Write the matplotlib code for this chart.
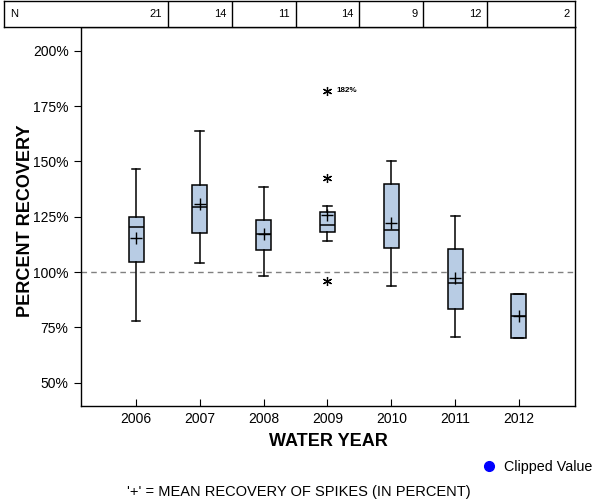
import matplotlib
matplotlib.use("Agg")
import matplotlib.pyplot as plt
from matplotlib.ticker import FuncFormatter
from matplotlib.lines import Line2D

plt.rcParams['font.family'] = ['Liberation Sans', 'DejaVu Sans']

years = ['2006', '2007', '2008', '2009', '2010', '2011', '2012']
n_counts = [21, 14, 11, 14, 9, 12, 2]
whisker_low = [77.7, 103.9, 98.0, 113.9, 93.5, 70.5, 70.0]
q1 = [104.4, 117.5, 109.9, 117.9, 110.7, 83.1, 70.0]
medians = [120.2, 129.2, 117.0, 121.1, 118.8, 94.9, 80.1]
q3 = [124.7, 139.2, 123.5, 127.0, 139.6, 110.2, 89.9]
whisker_high = [146.4, 163.6, 138.5, 129.7, 150.0, 125.4, 89.9]
means = [115.2, 130.6, 117.0, 125.8, 122.0, 97.1, 80.1]
outliers = [[], [], [], [181.9, 142.6, 95.8], [], [], []]
clipped_label = '182%'
yticks = [50, 75, 100, 125, 150, 175, 200]

fig = plt.figure(figsize=(6, 5), dpi=100)
W, H = 600, 500
L, R, T, B = 81, 575, 27, 406
ax = fig.add_axes([L / W, 1 - B / H, (R - L) / W, (B - T) / H])

xlo, xhi = -0.862, 6.878
positions = list(range(len(years)))
stats = []
for i in positions:
    stats.append(dict(whislo=whisker_low[i], q1=q1[i], med=medians[i], q3=q3[i],
                      whishi=whisker_high[i], mean=means[i], fliers=outliers[i]))

ax.bxp(stats, positions=positions, widths=0.235, capwidths=0.14, patch_artist=True,
       showmeans=True, showfliers=True,
       boxprops=dict(facecolor='#B8CCE4', edgecolor='black', linewidth=1.1),
       medianprops=dict(color='black', linewidth=1.1),
       whiskerprops=dict(color='black', linewidth=1.1),
       capprops=dict(color='black', linewidth=1.1),
       meanprops=dict(marker='+', markeredgecolor='black', markersize=8, markeredgewidth=1.0),
       flierprops=dict(marker=(6, 2, 0), markeredgecolor='black', markersize=6.5,
                       markeredgewidth=0.9, linestyle='none'))

ax.axhline(100, color='#808080', linestyle=(0, (4, 3)), linewidth=1.0, zorder=0)

# label for top outlier
ax.text(3 + 0.14, outliers[3][0], clipped_label, fontsize=5.8, fontweight='bold',
        va='center', ha='left')

ax.set_xlim(xlo, xhi)
ax.set_ylim(39.5, 210.7)
ax.set_xticks(positions)
ax.set_xticklabels(years)
ax.set_yticks(yticks)
ax.yaxis.set_major_formatter(FuncFormatter(lambda v, p: f'{int(v)}%'))
ax.tick_params(axis='x', direction='in', length=5, labelsize=10, pad=4)
ax.tick_params(axis='y', direction='out', length=5, labelsize=10, pad=4)
for s in ax.spines.values():
    s.set_linewidth(1.0)

ax.set_xlabel('WATER YEAR', fontsize=13, fontweight='bold')
ax.set_ylabel('PERCENT RECOVERY', fontsize=13, fontweight='bold')
ax.xaxis.set_label_coords(0.5, (B - 433) / (B - T))
ax.yaxis.set_label_coords((34 - L) / (R - L), (B - 221) / (B - T))

# N table
tax = fig.add_axes([4 / W, 1 - T / H, (R - 4) / W, 26 / H])
tleft = xlo - (L - 4) / ((R - L) / (xhi - xlo))
tax.set_xlim(tleft, xhi)
tax.set_ylim(0, 1)
tax.set_xticks([])
tax.set_yticks([])
for s in tax.spines.values():
    s.set_linewidth(1.0)
for i in positions[:-1]:
    tax.axvline(i + 0.5, color='black', linewidth=1.0)
tax.text(tleft + 0.09, 0.5, 'N', fontsize=8, va='center', ha='left')
for i, n in enumerate(n_counts):
    tax.text(i + 0.5 - 0.09 if i < len(n_counts) - 1 else xhi - 0.09, 0.5, str(n),
             fontsize=8, va='center', ha='right')

# legend and footnote
fig.add_artist(Line2D([489 / W], [1 - 466 / H], marker='o', markersize=7,
                      color='blue', linestyle='none', transform=fig.transFigure))
fig.text(504 / W, 1 - 467 / H, 'Clipped Value', fontsize=10.3, ha='left', va='center')
fig.text(299 / W, 1 - 492 / H, "'+' = MEAN RECOVERY OF SPIKES (IN PERCENT)", fontsize=10.5,
         ha='center', va='center')

fig.savefig('out.png', dpi=100)
